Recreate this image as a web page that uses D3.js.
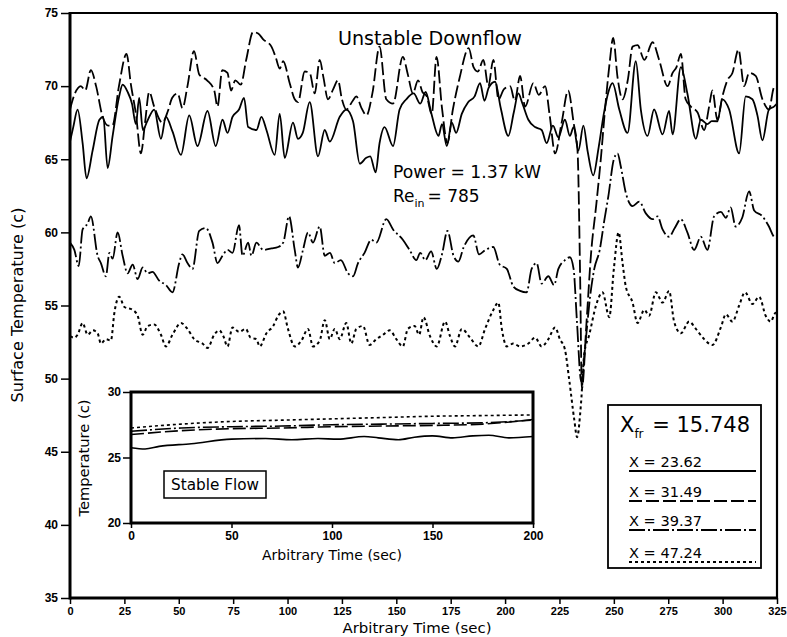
<!DOCTYPE html>
<html>
<head>
<meta charset="utf-8">
<script src="https://cdn.jsdelivr.net/npm/d3@7"></script>
<style>
  body { margin: 0; background: #fff; }
  svg { display: block; }
  text { font-family: "DejaVu Sans", "Liberation Sans", sans-serif; fill: #000; }
</style>
</head>
<body>
<svg id="chart" width="787" height="637"></svg>
<script>
// ---- Unstable downflow: surface temperature traces, [time (s), temperature (C)] ----
const x2362 = [[0,66.2],[1.5,67.2],[3.5,68.4],[5.8,66.1],[7.6,63.7],[10.4,65.6],[13.5,67.7],[15.3,67.9],[17.3,64.4],[19.6,66.6],[22.6,69.3],[24.2,70.1],[26.5,69.6],[28.5,68.8],[30.3,67.4],[31.8,69.2],[33.5,67.0],[35.5,67.6],[38.7,68.4],[41.8,66.4],[44.1,67.9],[47.1,66.9],[51,65.3],[54.8,68.0],[58.6,65.9],[63.2,68.3],[67,65.9],[70.1,67.7],[72.4,66.8],[74.7,67.9],[77.7,68.4],[80,69.2],[81.9,67.2],[85.7,67.0],[88,67.9],[90.3,67.0],[94.1,65.3],[96.4,68.1],[98.7,65.1],[102.5,67.5],[104.8,66.4],[107,66.8],[110.2,68.9],[114,65.2],[117.1,67.0],[119.4,66.2],[124,67.9],[127,68.4],[130.1,67.6],[133.2,64.7],[136.2,65.1],[138,65.2],[140.5,64.1],[142.3,66.1],[144.6,67.2],[148.5,65.9],[151.5,68.4],[154.6,69.1],[158,69.5],[161,68.8],[163.5,69.6],[166,68.2],[169.4,66.6],[171,67.4],[173.2,65.9],[175.5,67.5],[177.5,66.8],[180.1,68.1],[183,68.9],[186,69.3],[188.5,70.2],[190.5,69.0],[192.5,69.9],[195.4,70.3],[198,68.5],[201.5,66.6],[204,68.2],[206.1,69.5],[208,68.8],[210.7,67.7],[213.8,67.2],[216.8,67.0],[219.1,66.1],[222,67.3],[224.5,66.5],[227.5,67.7],[229.8,66.6],[231.5,67.2],[233.7,65.6],[236,67.3],[238,65.5],[240.5,63.9],[243,65.8],[245.5,68.2],[247.5,69.6],[249.4,70.2],[252.5,68.4],[256.3,66.8],[260.1,71.7],[262.4,68.4],[265.5,66.6],[268.5,68.4],[272.4,66.7],[275.4,68.3],[277,66.7],[280.8,71.3],[283.8,69.5],[287.7,66.4],[290,67.7],[293,67.4],[295,67.6],[297.6,67.6],[299.9,69.1],[303,68.4],[307.6,65.4],[310.6,69.3],[313.7,69.1],[316,68.0],[318.3,66.3],[321.3,68.4],[323.6,68.6],[325,68.8]];

const x3149 = [[0,68.4],[2,69.4],[5,70.0],[7,69.7],[9.6,71.1],[12,70.0],[15,67.9],[17.5,67.3],[19.5,67.3],[22.5,70.0],[26,72.2],[28,70.1],[30.3,68.1],[32.6,65.4],[34.5,67.5],[36.4,69.6],[38.7,68.6],[42.5,67.5],[45,68.3],[47,69.2],[49.5,69.5],[51.7,68.5],[54,70.0],[57,72.4],[59.4,70.8],[63,70.4],[66.3,69.7],[67.8,68.6],[70,71.1],[72.4,70.9],[74,69.7],[76,70.4],[78.5,70.1],[81,71.8],[84.2,73.7],[86.5,73.6],[88.8,73.2],[92.6,72.7],[94.5,72.0],[96.4,71.2],[98,71.7],[101,70.2],[103.3,69.1],[104.8,68.9],[107.9,71.0],[110.2,70.9],[112.5,69.5],[114.8,71.8],[116.5,70.6],[118.6,69.1],[121,69.8],[123.2,70.4],[125,69.1],[127,68.4],[130,69.0],[131.6,69.3],[134,68.5],[136.3,68.0],[139,69.5],[142.3,72.7],[145.4,69.1],[148.5,68.8],[153,72.0],[155.3,70.8],[157.6,69.5],[160,70.4],[162,69.6],[164,69.3],[166.3,68.1],[168.5,72.0],[171,68.5],[173.5,66.1],[176,68.4],[179,70.5],[183.3,72.6],[185.5,71.3],[187.5,71.0],[190,71.8],[192.3,70.0],[194.6,71.8],[197,69.1],[199.5,69.8],[202.3,70.0],[204.5,69.0],[206.9,70.7],[209.2,68.6],[213,70.2],[215.5,69.4],[218.4,70.0],[220.5,68.0],[223,65.4],[226,67.5],[229,69.7],[231.5,67.5],[233.3,65.6],[234.5,57.0],[235.3,49.3],[237.5,54.0],[239.5,58.5],[242,62.0],[244,65.0],[246,68.5],[248,71.5],[249.7,73.3],[251.7,70.6],[254,69.1],[256.5,70.5],[258.6,72.7],[260.9,72.8],[264,71.8],[267.8,73.0],[270.8,71.8],[274.7,70.0],[277,70.9],[278.8,71.3],[280.8,72.2],[283,69.1],[285.4,68.6],[288.5,68.2],[291.5,67.0],[293.8,68.6],[295.3,69.7],[297.6,67.7],[299.9,69.3],[302.2,70.4],[304.5,70.9],[307.3,72.5],[309.9,70.0],[312.2,70.9],[315.2,70.7],[318.3,69.1],[321.3,68.4],[323.6,69.9],[325,70.0]];

const x3937 = [[0,59.3],[2,58.8],[4,57.7],[5.8,60.2],[8.1,60.6],[9.6,61.1],[12.7,58.4],[14.2,57.9],[16.5,57.0],[18.1,58.6],[19.6,58.2],[21.9,60.0],[24.2,58.4],[26.5,57.2],[28.8,57.8],[31.1,56.8],[33.4,57.6],[35.7,57.2],[37.9,57.3],[41,56.7],[44.1,56.4],[47.1,55.9],[50.2,57.9],[51.7,58.5],[54,57.9],[56.3,57.5],[59.4,60.1],[62.4,60.3],[65.5,59.3],[67.8,57.9],[70.1,58.4],[72.4,58.8],[74.7,58.6],[77.7,60.5],[79.3,58.4],[81.9,59.3],[83.4,58.4],[85.7,59.3],[88.8,58.8],[92.6,58.9],[95.7,59.0],[98,59.3],[100.7,61.1],[103.3,58.8],[104.8,57.6],[107.1,58.8],[109.4,60.0],[111.7,59.3],[114.8,60.4],[117.1,58.4],[119.5,58.6],[121.7,57.9],[124.5,58.1],[127.8,57.2],[130.1,57.0],[132.4,57.9],[135.4,58.6],[138.5,59.5],[140.8,59.3],[145.4,60.9],[148.5,60.2],[153,59.5],[156.1,58.8],[159.2,58.1],[161,58.6],[163.3,58.1],[166,58.7],[168.6,57.5],[171,58.5],[173.5,60.1],[176.3,58.4],[178.5,58.0],[181,59.0],[185.4,59.8],[188,58.5],[191,58.8],[194.6,59.0],[197.5,57.8],[200.8,57.5],[203.8,56.3],[206.9,56.0],[209.9,55.9],[212.2,57.5],[214.5,57.9],[216.8,56.5],[219.9,57.0],[222.5,56.4],[224.5,57.5],[227.5,58.1],[229.8,58.3],[231.5,57.5],[233,54.0],[235,49.8],[237,52.5],[239,55.5],[241,57.5],[243.5,58.8],[245.6,60.8],[247.5,62.5],[250,65.0],[251.7,65.4],[253.2,64.5],[255.5,62.7],[258.6,61.8],[261.7,62.1],[264.7,61.3],[267.8,60.9],[270.1,61.1],[272.4,60.2],[275.4,59.7],[278,60.3],[280.8,60.9],[283.8,60.0],[286.9,58.8],[290,59.7],[293,58.8],[296.1,61.1],[299.2,61.4],[301.5,61.0],[303.7,61.7],[306,60.4],[309,61.0],[312.2,62.8],[314.5,61.5],[318.3,61.1],[321.3,60.4],[323.6,59.7],[325,59.6]];

const x4724 = [[0,52.9],[2,52.8],[3.5,53.0],[5.8,53.8],[8.1,53.0],[10.5,53.3],[12.7,53.1],[14.2,52.4],[16.5,52.7],[18.8,52.6],[20.4,54.5],[22.6,55.6],[25,54.9],[28.8,54.7],[31.1,54.3],[33.4,53.0],[35.7,53.6],[38.7,53.7],[41.8,53.0],[44.1,52.2],[47.1,53.0],[51,53.8],[54,53.4],[57.1,52.7],[60.9,52.4],[63.2,52.1],[66.3,53.0],[68.6,53.3],[70.5,52.9],[72.4,52.2],[74.7,53.5],[77.7,53.2],[80.8,53.4],[83,52.8],[85.7,52.7],[87.2,52.2],[90.3,53.1],[93.4,53.6],[95.7,54.3],[98,54.6],[100.2,53.4],[103.3,52.2],[106.4,52.6],[109.4,53.4],[111.7,52.2],[114.8,52.6],[117.1,54.0],[119.4,52.7],[121.7,53.4],[124,52.7],[127,53.8],[129.3,52.4],[131.6,53.4],[134.7,53.6],[137.7,52.3],[140.8,52.7],[143.9,53.0],[147,53.3],[150,52.7],[153,52.2],[155.3,53.4],[158.4,53.6],[160.5,53.0],[162.5,54.2],[165.5,52.9],[168.6,52.2],[172.4,53.9],[174.7,52.9],[177,52.2],[180.1,53.4],[183.9,52.8],[187.7,52.2],[190.8,53.4],[194.6,54.7],[196.9,55.2],[198.5,53.4],[200.8,52.2],[203.8,52.4],[206.9,52.2],[210.7,52.4],[213.8,52.8],[216.8,52.2],[219.9,52.7],[223,53.5],[225.2,52.7],[227.5,52.0],[229.5,49.9],[231.8,47.2],[233.1,46.0],[234.9,48.3],[236.4,51.7],[238.7,53.0],[241.8,55.0],[244.8,55.9],[247.9,54.2],[250,57.5],[252.2,60.0],[254,57.9],[255.5,56.3],[258.6,55.2],[260.9,53.8],[264,54.7],[266.2,54.3],[269.3,55.9],[272.4,55.2],[275.4,56.0],[277.7,53.9],[280.8,53.1],[284.6,53.9],[287.7,53.4],[291.5,52.7],[295.3,52.3],[299.2,53.5],[301.5,54.4],[304.5,53.9],[307.6,55.0],[310.3,55.9],[313.7,55.1],[316.8,55.6],[319.8,54.3],[322.1,53.9],[324.4,54.5],[325,54.2]];

// ---- Stable flow (inset): [time (s), temperature (C)] ----
const stable2362 = [[0,25.75],[7,25.65],[14,25.85],[30,26.05],[50,26.4],[67,26.45],[80,26.35],[93,26.45],[103,26.4],[116,26.6],[123,26.5],[133,26.35],[141,26.55],[150,26.65],[160,26.5],[170,26.65],[178,26.7],[188,26.5],[200,26.6]];
const stable3149 = [[0,26.75],[25,27.05],[50,27.2],[75,27.25],[100,27.35],[125,27.4],[150,27.45],[175,27.55],[200,27.9]];
const stable3937 = [[0,27.0],[25,27.25],[50,27.35],[75,27.4],[100,27.5],[125,27.55],[150,27.6],[175,27.65],[200,27.85]];
const stable4724 = [[0,27.25],[25,27.55],[50,27.75],[75,27.85],[100,27.95],[125,28.05],[150,28.15],[175,28.2],[200,28.25]];

const mainXTicks = [0,25,50,75,100,125,150,175,200,225,250,275,300,325];
const mainYTicks = [35,40,45,50,55,60,65,70,75];
const insetXTicks = [0,50,100,150,200];
const insetYTicks = [20,25,30];
const legendLabels = ["X = 23.62","X = 31.49","X = 39.37","X = 47.24"];

// ---- drawing ----
const svg = d3.select("#chart");
const dashes = ["none", "13,4", "16,3,2,3", "3,3"];
const tickFont = "'Liberation Sans', Arial, sans-serif";

const x = d3.scaleLinear().domain([0, 325]).range([70, 777]);
const y = d3.scaleLinear().domain([35, 75]).range([598, 13]);

const line = d3.line().x(d => x(d[0])).y(d => y(d[1])).curve(d3.curveMonotoneX);

const mainSeries = [x2362, x3149, x3937, x4724];
svg.append("g").selectAll("path").data(mainSeries).join("path")
  .attr("d", line)
  .attr("fill", "none")
  .attr("stroke", "#000")
  .attr("stroke-width", (d, i) => i === 3 ? 2 : 1.8)
  .attr("stroke-dasharray", (d, i) => dashes[i]);

// axes
const xAxis = d3.axisBottom(x).tickValues(mainXTicks).tickSize(6).tickPadding(3);
const yAxis = d3.axisLeft(y).tickValues(mainYTicks).tickSize(9).tickPadding(3);
const gx = svg.append("g").attr("transform", `translate(0,${y(35)})`).call(xAxis);
const gy = svg.append("g").attr("transform", `translate(${x(0)},0)`).call(yAxis);
[gx, gy].forEach(g => {
  g.select(".domain").remove();
  g.selectAll(".tick line").attr("stroke", "#000").attr("stroke-width", 1.5);
  g.selectAll(".tick text").attr("font-size", 12).attr("font-weight", "bold")
    .style("font-family", tickFont);
});
gx.selectAll(".tick text").attr("font-size", 11);

// frame
svg.append("line").attr("x1", x(0)).attr("x2", x(325)).attr("y1", y(75)).attr("y2", y(75)).attr("stroke", "#000").attr("stroke-width", 2.2);
svg.append("line").attr("x1", x(325)).attr("x2", x(325)).attr("y1", y(75)).attr("y2", y(35)).attr("stroke", "#000").attr("stroke-width", 2.2);
svg.append("line").attr("x1", x(0)).attr("x2", x(325)).attr("y1", y(35)).attr("y2", y(35)).attr("stroke", "#000").attr("stroke-width", 3);
svg.append("line").attr("x1", x(0)).attr("x2", x(0)).attr("y1", y(75) - 1).attr("y2", y(35) + 1.5).attr("stroke", "#000").attr("stroke-width", 3);

// axis titles
svg.append("text").attr("x", 417).attr("y", 633).attr("text-anchor", "middle")
  .attr("font-size", 13.5).attr("textLength", 149).attr("lengthAdjust", "spacingAndGlyphs")
  .text("Arbitrary Time (sec)");
svg.append("text").attr("transform", "translate(23,305) rotate(-90)").attr("text-anchor", "middle")
  .attr("font-size", 15).attr("textLength", 195).attr("lengthAdjust", "spacingAndGlyphs")
  .text("Surface Temperature (c)");

// annotations
svg.append("text").attr("x", 338).attr("y", 45).attr("font-size", 19)
  .attr("textLength", 184).attr("lengthAdjust", "spacingAndGlyphs").text("Unstable Downflow");
svg.append("text").attr("x", 393).attr("y", 178).attr("font-size", 17)
  .attr("textLength", 148).attr("lengthAdjust", "spacingAndGlyphs").text("Power = 1.37 kW");
const re = svg.append("text").attr("x", 393).attr("y", 202).attr("font-size", 17);
re.append("tspan").text("Re");
re.append("tspan").attr("font-size", 11).attr("dy", 5).text("in");
re.append("tspan").attr("dy", -5).attr("dx", 3).text("= 785");

// legend
const lg = svg.append("g");
lg.append("rect").attr("x", 608).attr("y", 405).attr("width", 153).attr("height", 163)
  .attr("fill", "#fff").attr("stroke", "#000").attr("stroke-width", 1.8);
const xfr = lg.append("text").attr("x", 620).attr("y", 432).attr("font-size", 21);
xfr.append("tspan").text("X");
xfr.append("tspan").attr("font-size", 12).attr("dy", 6).text("fr");
xfr.append("tspan").attr("dy", -6).attr("dx", 2).text(" = 15.748");
const legBase = [467, 497, 526, 558];
legendLabels.forEach((lab, i) => {
  lg.append("text").attr("x", 629).attr("y", legBase[i]).attr("font-size", 14.5)
    .attr("textLength", 73).attr("lengthAdjust", "spacingAndGlyphs").text(lab);
  lg.append("line").attr("x1", 629).attr("x2", 756)
    .attr("y1", legBase[i] + 4).attr("y2", legBase[i] + 4)
    .attr("stroke", "#000").attr("stroke-width", i === 3 ? 2 : 1.8)
    .attr("stroke-dasharray", dashes[i]);
});

// ---- inset: stable flow ----
const ix = d3.scaleLinear().domain([0, 200]).range([131, 533]);
const iy = d3.scaleLinear().domain([20, 30]).range([523, 392]);
const iline = d3.line().x(d => ix(d[0])).y(d => iy(d[1])).curve(d3.curveMonotoneX);
const ins = svg.append("g");
ins.append("rect").attr("x", ix(0)).attr("y", iy(30)).attr("width", ix(200) - ix(0)).attr("height", iy(20) - iy(30))
  .attr("fill", "#fff").attr("stroke", "none");
ins.selectAll("path.s").data([stable2362, stable3149, stable3937, stable4724]).join("path")
  .attr("class", "s")
  .attr("d", iline).attr("fill", "none").attr("stroke", "#000")
  .attr("stroke-width", 1.6).attr("stroke-dasharray", (d, i) => dashes[i]);
ins.append("rect").attr("x", ix(0)).attr("y", iy(30)).attr("width", ix(200) - ix(0)).attr("height", iy(20) - iy(30))
  .attr("fill", "none").attr("stroke", "#000").attr("stroke-width", 3);
const igx = ins.append("g").attr("transform", `translate(0,${iy(20)})`)
  .call(d3.axisBottom(ix).tickValues(insetXTicks).tickSize(5).tickPadding(3));
const igy = ins.append("g").attr("transform", `translate(${ix(0)},0)`)
  .call(d3.axisLeft(iy).tickValues(insetYTicks).tickSize(8).tickPadding(2));
[igx, igy].forEach(g => {
  g.select(".domain").remove();
  g.selectAll(".tick line").attr("stroke", "#000").attr("stroke-width", 1.5);
  g.selectAll(".tick text").attr("font-size", 12).attr("font-weight", "bold")
    .style("font-family", tickFont);
});
ins.append("text").attr("x", 332).attr("y", 560).attr("text-anchor", "middle")
  .attr("font-size", 13.5).attr("textLength", 140).attr("lengthAdjust", "spacingAndGlyphs")
  .text("Arbitrary Time (sec)");
ins.append("text").attr("transform", "translate(89,458) rotate(-90)").attr("text-anchor", "middle")
  .attr("font-size", 13.5).attr("textLength", 117).attr("lengthAdjust", "spacingAndGlyphs")
  .text("Temperature (c)");
ins.append("rect").attr("x", 164).attr("y", 471).attr("width", 102).attr("height", 27)
  .attr("fill", "#fff").attr("stroke", "#000").attr("stroke-width", 1.5);
ins.append("text").attr("x", 215).attr("y", 490).attr("text-anchor", "middle")
  .attr("font-size", 15).attr("textLength", 88).attr("lengthAdjust", "spacingAndGlyphs")
  .text("Stable Flow");
</script>
</body>
</html>
